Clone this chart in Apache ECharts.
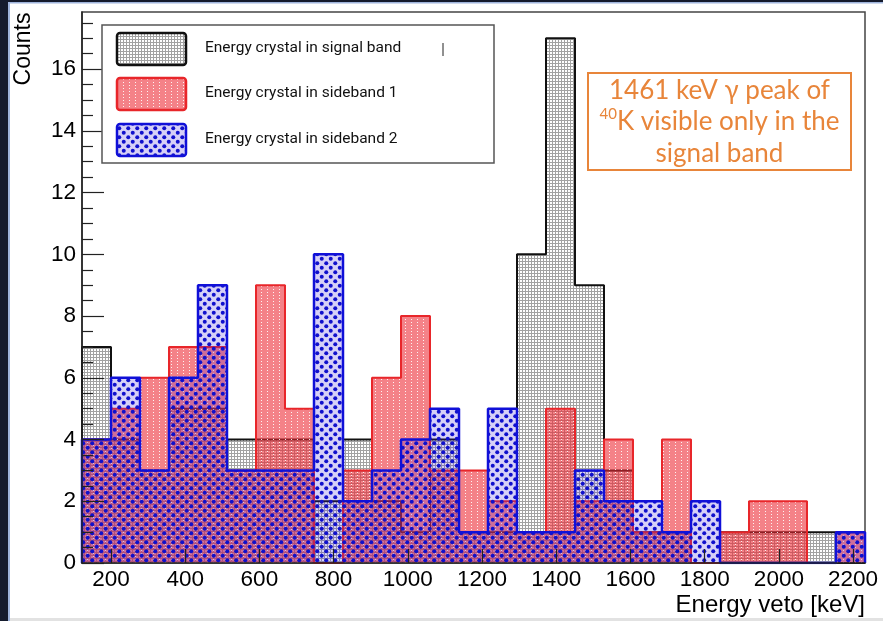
<!DOCTYPE html>
<html>
<head>
<meta charset="utf-8">
<script src="https://cdn.jsdelivr.net/npm/echarts@6/dist/echarts.min.js"></script>
<style>
html,body{margin:0;padding:0;background:#fff;}
#chart{width:883px;height:621px;}
</style>
</head>
<body>
<div id="chart"></div>
<script>
// ---- data (counts per bin) ----
const binStart = 122;      // keV, low edge of first bin
const binWidth = 78.15;    // keV
const signalBand = [7,4,3,5,5,4,4,4,2,4,2,1,4,1,1,10,17,9,3,1,1,0,1,1,1,1,0];
const sideband1  = [4,5,6,7,7,3,9,5,0,3,6,8,3,3,2,1,5,2,4,1,4,0,1,2,2,0,1];
const sideband2  = [4,6,3,6,9,3,3,3,10,2,3,4,5,1,5,1,1,3,2,2,1,2,0,0,0,0,1];
const xTickValues = [200,400,600,800,1000,1200,1400,1600,1800,2000,2200];
const yTickValues = [0,2,4,6,8,10,12,14,16];
const yMinorTicks = [0.5,1,1.5,2.5,3,3.5,4.5,5,5.5,6.5,7,7.5,8.5,9,9.5,10.5,11,11.5,12.5,13,13.5,14.5,15,15.5,16.5,17,17.5];
const yMax = 17.85;
const legendNames = ['Energy crystal in signal band','Energy crystal in sideband 1','Energy crystal in sideband 2'];

function stepData(counts){
  const pts = [[binStart, 0]];
  counts.forEach((c, i) => pts.push([binStart + i * binWidth, c]));
  const end = binStart + counts.length * binWidth;
  pts.push([end, counts[counts.length - 1]]);
  pts.push([end, 0]);
  return pts;
}
function makePattern(w, h, draw){
  const c = document.createElement('canvas');
  c.width = w; c.height = h;
  draw(c.getContext('2d'));
  return {image: c, repeat: 'repeat'};
}
const patSignal = makePattern(3, 3, ctx => {
  ctx.fillStyle = '#a2a2a2'; ctx.fillRect(0,0,3,3);
  ctx.fillStyle = '#ffffff'; ctx.fillRect(1,1,2,2);
});
const patSide1 = makePattern(6, 3, ctx => {
  ctx.fillStyle = 'rgba(236,40,50,0.58)'; ctx.fillRect(0,0,6,3);
  ctx.fillStyle = 'rgba(255,255,255,0.9)'; ctx.fillRect(3,1,1,1);
});
const patSide2 = makePattern(9, 9, ctx => {
  ctx.fillStyle = 'rgba(70,40,220,0.22)'; ctx.fillRect(0,0,9,9);
  ctx.fillStyle = '#1010cc';
  [[2.25,2.25],[6.75,6.75]].forEach(p => { ctx.beginPath(); ctx.arc(p[0], p[1], 2.0, 0, Math.PI*2); ctx.fill(); });
});

const colors = ['#111111', '#e8262a', '#1010d8'];
const pats = [patSignal, patSide1, patSide2];
const widths = [2, 2, 2.5];
const datasets = [signalBand, sideband1, sideband2];

const series = datasets.map((d, k) => ({
  type: 'line', name: legendNames[k], data: stepData(d), step: 'end',
  symbol: 'none', silent: true, z: 2 + k,
  lineStyle: {color: colors[k], width: widths[k]},
  areaStyle: {color: pats[k], opacity: 1}
}));

const chart = echarts.init(document.getElementById('chart'), null, {renderer: 'canvas'});
const legendGraphics = [];
[33, 78, 124].forEach((y, k) => {
  legendGraphics.push({type: 'rect', shape: {x: 117, y: y, width: 69, height: 32, r: 3},
    style: {fill: pats[k], stroke: colors[k], lineWidth: 2.5}, z: 100});
  legendGraphics.push({type: 'text', x: 205, y: y + 15,
    style: {text: legendNames[k], font: '15.5px Roboto', fill: '#111', textVerticalAlign: 'middle'}, z: 100});
});
const labelFmt = v => String(v);

chart.setOption({
  animation: false,
  backgroundColor: '#ffffff',
  grid: {left: 82, right: 18, top: 12, bottom: 58, show: true, borderColor: '#444', borderWidth: 1.5, backgroundColor: 'transparent'},
  xAxis: [{
    type: 'value', min: binStart, max: binStart + signalBand.length * binWidth, z: 10,
    axisLine: {lineStyle: {color: '#222', width: 1.5}},
    axisTick: {inside: true, length: 14, customValues: xTickValues, lineStyle: {color: '#222', width: 1.2}},
    axisLabel: {customValues: xTickValues, formatter: labelFmt, fontSize: 22.5, fontFamily: 'Liberation Sans', color: '#000', margin: 5},
    splitLine: {show: false}
  }],
  yAxis: [{
    type: 'value', min: 0, max: yMax, interval: 2, z: 10,
    axisLine: {show: true, lineStyle: {color: '#222', width: 1.5}},
    axisTick: {show: true, inside: true, length: 22, customValues: yTickValues, lineStyle: {color: '#222', width: 1.2}},
    axisLabel: {customValues: yTickValues, formatter: labelFmt, fontSize: 22.5, fontFamily: 'Liberation Sans', color: '#000', margin: 6},
    splitLine: {show: false}
  }, {
    type: 'value', min: 0, max: yMax, position: 'left', z: 10,
    axisLine: {show: false},
    axisTick: {show: true, inside: true, length: 11, customValues: yMinorTicks, lineStyle: {color: '#222', width: 1.2}},
    axisLabel: {show: false},
    splitLine: {show: false}
  }],
  series: series,
  graphic: [
    {type: 'rect', shape: {x: 0, y: 0, width: 8, height: 621}, style: {fill: '#151b2d'}, z: 200},
    {type: 'rect', shape: {x: 8, y: 0, width: 2, height: 621}, style: {fill: '#9fb4dc'}, z: 200},
    {type: 'rect', shape: {x: 0, y: 0, width: 883, height: 2}, style: {fill: '#151b2d'}, z: 200},
    {type: 'rect', shape: {x: 8, y: 2, width: 875, height: 1.5}, style: {fill: '#9fb4dc'}, z: 200},
    {type: 'rect', shape: {x: 10, y: 618, width: 873, height: 3}, style: {fill: '#e2e2e2'}, z: 200},
    {type: 'text', x: 24, y: 49, rotation: Math.PI / 2,
      style: {text: 'Counts', font: '23px "Liberation Sans"', fill: '#000', textAlign: 'center', textVerticalAlign: 'middle'}},
    {type: 'text', x: 865, y: 605,
      style: {text: 'Energy veto [keV]', font: '24px "Liberation Sans"', fill: '#000', textAlign: 'right', textVerticalAlign: 'middle'}},
    {type: 'rect', shape: {x: 102, y: 25, width: 392, height: 138}, style: {fill: '#fff', stroke: '#555', lineWidth: 1.5}, z: 99},
    ...legendGraphics,
    {type: 'line', shape: {x1: 443, y1: 43, x2: 443, y2: 56}, style: {stroke: '#222', lineWidth: 1}, z: 100},
    {type: 'rect', shape: {x: 588, y: 73, width: 263, height: 97}, style: {fill: '#fff', stroke: '#e8853a', lineWidth: 2}, z: 100},
    {type: 'text', x: 719.5, y: 122, z: 101,
      style: {
        text: '1461 keV γ peak of\n{sup|40}K visible only in the\nsignal band',
        font: '26px Lato', fill: '#e8853a', textAlign: 'center', textVerticalAlign: 'middle', lineHeight: 31.5,
        rich: {sup: {fontSize: 15, fontFamily: 'Lato', fill: '#e8853a', verticalAlign: 'top', lineHeight: 22}}
      }}
  ]
});
</script>
</body>
</html>
